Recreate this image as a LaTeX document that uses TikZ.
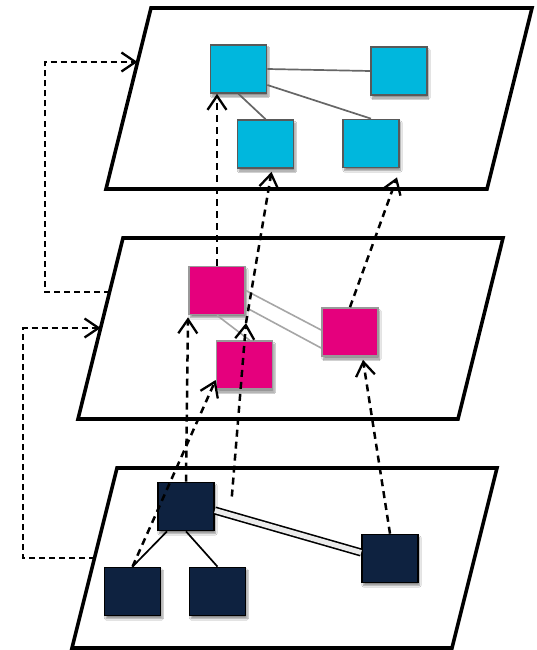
\documentclass[tikz,border=0pt]{standalone}
\usetikzlibrary{arrows.meta,calc,shadows.blur}
\definecolor{layercyan}{HTML}{00B7DD}
\definecolor{layermagenta}{HTML}{E5007D}
\definecolor{layernavy}{HTML}{0E2240}
\begin{document}
\begin{tikzpicture}[x=1pt,y=-1pt,
  plane/.style={draw=black,line width=3.6pt,fill=white,line join=miter},
  box/.style={rectangle,minimum width=56pt,minimum height=48pt,inner sep=0pt,
    line width=1.7pt,
    blur shadow={shadow xshift=1.5pt,shadow yshift=-3pt,shadow blur steps=6,shadow opacity=45}},
  cyanbox/.style={box,fill=layercyan,draw=black!65},
  magbox/.style={box,fill=layermagenta,draw=black!40},
  navybox/.style={box,fill=layernavy,draw=black},
  toplink/.style={draw=black!60,line width=1.7pt},
  midlink/.style={draw=black!35,line width=1.6pt},
  botlink/.style={draw=black,line width=1.7pt},
  maptip/.style={-{Straight Barb[length=14pt,width=19pt,line width=2.3pt]}},
  mapline/.style={maptip,line width=2.5pt,dash pattern=on 7pt off 5pt},
  frameline/.style={maptip,line width=2pt,dash pattern=on 6pt off 4pt},
]
\useasboundingbox (0,0) rectangle (536,650);

% the three layer planes
\draw[plane] (151,8) -- (532,8) -- (487,189) -- (106,189) -- cycle;
\draw[plane] (123,238) -- (503,238) -- (458,419) -- (78,419) -- cycle;
\draw[plane] (117,468) -- (497,468) -- (452,648) -- (72,648) -- cycle;

% top layer
\node[cyanbox] (A) at (238.5,69) {};
\node[cyanbox] (B) at (399,71) {};
\node[cyanbox] (C) at (265.5,144) {};
\node[cyanbox] (D) at (371,143.5) {};
\draw[toplink] (A.east) -- (B.west);
\draw[toplink] ($(A.east)+(0,16)$) -- (D.north);
\draw[toplink] (A.south) -- (C.north);

% middle layer
\node[magbox] (E) at (217,290.5) {};
\node[magbox] (F) at (244.5,365) {};
\node[magbox] (G) at (350,332) {};
\draw[midlink] (E.east) -- ($(G.west)+(0,-2)$);
\draw[midlink] ($(E.east)+(0,17)$) -- ($(G.west)+(0,16)$);
\draw[midlink] (E.south) -- ($(F.north)+(5,0)$);

% bottom layer
\node[navybox] (H) at (186,506.5) {};
\node[navybox] (I) at (132.5,591.5) {};
\node[navybox] (J) at (217.5,591.5) {};
\node[navybox] (K) at (390,558.5) {};
\draw[botlink] ($(H.south)+(-19,0)$) -- (I.north);
\draw[botlink] (H.south) -- (J.north);
\draw[draw=black,line width=1.6pt,double=black!8,double distance=5pt]
  ($(H.east)+(0,4)$) -- ($(K.west)+(0,-6)$);

% cross-layer mappings
\coordinate (mid) at (246,323);
\coordinate (hk) at ($(H.east)+(17,-10)$);
\draw[mapline] (E.north) -- (E.north |- A.south);
\draw[mapline] (mid) -- ($(C.south)+(6,3)$);
\draw[mapline] (G.north) -- ($(D.south)+(26,9)$);
\draw[mapline] (K.north) -- ($(G.south)+(13,3)$);
\draw[mapline] (H.north) -- ($(E.south)+(-29,2)$);
\draw[mapline] (I.north) -- ($(F.west)+(0,15)$);
\draw[mapline] (hk) -- (mid);

% layer-to-layer frame connectors
\coordinate (m1) at (109.5,292);
\coordinate (t1) at (137.5,62);
\coordinate (b2) at (94.5,558);
\coordinate (m2) at (100.6,328);
\draw[frameline] (m1) -- (45,292) -- (45,62) -- (t1);
\draw[frameline] (b2) -- (23,558) -- (23,328) -- (m2);
\end{tikzpicture}
\end{document}
